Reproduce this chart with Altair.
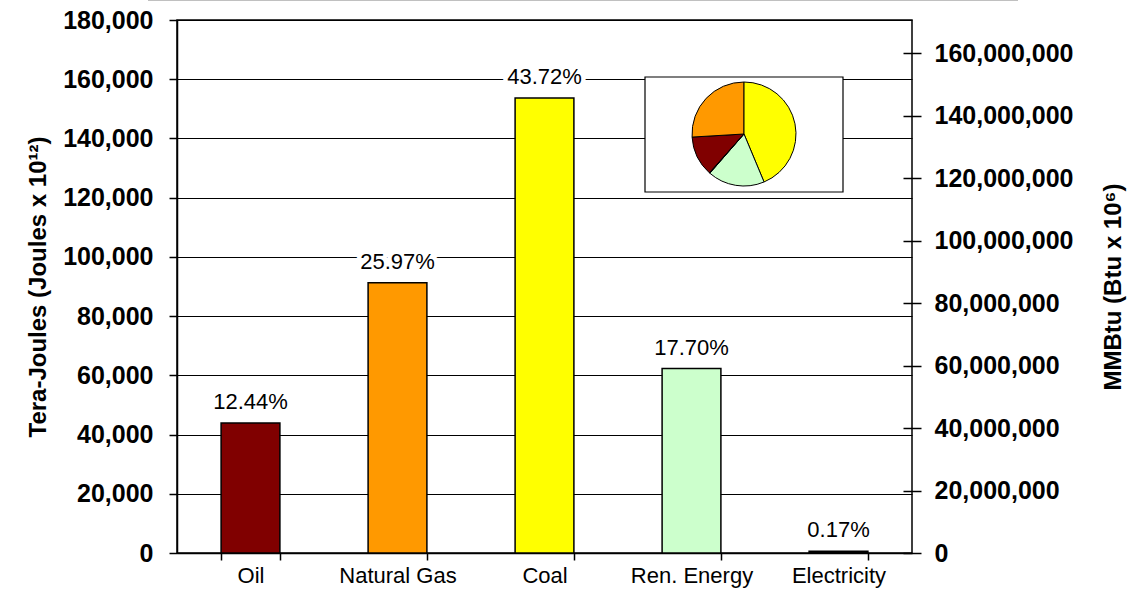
import altair as alt
import pandas as pd

# ---- data ----
categories = ["Oil", "Natural Gas", "Coal", "Ren. Energy", "Electricity"]
tera_joules = [43900, 91300, 153700, 62300, 600]
pct_labels = ["12.44%", "25.97%", "43.72%", "17.70%", "0.17%"]
bar_colors = ["#800000", "#FF9900", "#FFFF00", "#CCFFCC", "#000000"]
left_ticks = [0, 20000, 40000, 60000, 80000, 100000, 120000, 140000, 160000, 180000]
right_ticks = [0, 20000000, 40000000, 60000000, 80000000, 100000000,
               120000000, 140000000, 160000000]
TJ_TO_MMBTU = 947.817
LEFT_MAX = 180000

df = pd.DataFrame({
    "cat": categories,
    "tj": tera_joules,
    "pct": pct_labels,
    "idx": list(range(len(categories))),
})

FONT = "Liberation Sans"
W, H = 735, 533

x_enc = alt.X(
    "cat:N", sort=categories,
    scale=alt.Scale(paddingInner=0.6, paddingOuter=0.3),
    axis=alt.Axis(title=None, labelAngle=0, tickBand="extent", tickSize=7,
                  tickColor="black", tickWidth=1.5, domainColor="black",
                  domainWidth=1.5, labelFont=FONT, labelFontSize=22,
                  labelColor="black", labelPadding=5),
)
y_enc = alt.Y(
    "tj:Q",
    scale=alt.Scale(domain=[0, LEFT_MAX], nice=False),
    axis=alt.Axis(values=left_ticks, format=",d", tickSize=8, tickColor="black",
                  tickWidth=1.5, domainColor="black", domainWidth=1.5,
                  grid=True, gridColor="black", gridWidth=1.2,
                  labelFont=FONT, labelFontSize=25, labelFontWeight="bold",
                  labelColor="black", labelPadding=16,
                  title="Tera-Joules (Joules x 10¹²)", titleFont=FONT,
                  titleFontSize=24, titleFontWeight="bold", titleColor="black",
                  titlePadding=12),
)
color_enc = alt.Color("cat:N", scale=alt.Scale(domain=categories, range=bar_colors),
                      legend=None)

base = alt.Chart(df)

bars = base.mark_bar(stroke="black", strokeWidth=1.5).encode(
    x=x_enc, y=y_enc, color=color_enc)

halo = base.mark_text(fontSize=22, font=FONT, dy=-14, baseline="alphabetic",
                      stroke="white", strokeWidth=9, strokeJoin="round",
                      fill="white").encode(
    x=x_enc, y=y_enc, text="pct:N")
labels = base.mark_text(fontSize=22, font=FONT, dy=-14, baseline="alphabetic",
                        color="black").encode(
    x=x_enc, y=y_enc, text="pct:N")

one = alt.Chart(pd.DataFrame({"a": [0]}))
inset_box = one.mark_rect(fill="white", stroke="black", strokeWidth=1.2).encode(
    x=alt.value(468), x2=alt.value(666), y=alt.value(57), y2=alt.value(172))

pie = base.mark_arc(outerRadius=52, stroke="black", strokeWidth=1).encode(
    theta=alt.Theta("tj:Q", stack=True, scale=alt.Scale(range=[-2.414, 3.869])),
    color=color_enc,
    order=alt.Order("idx:Q"),
    x=alt.value(567), y=alt.value(114),
)

top_rule = one.mark_rule(color="#c0c0c0", strokeWidth=1).encode(
    x=alt.value(-29), x2=alt.value(841), y=alt.value(-19.5))

left_layer = alt.layer(bars, halo, labels, inset_box, pie, top_rule)

right_layer = base.transform_calculate(
    mmbtu=f"datum.tj * {TJ_TO_MMBTU}"
).mark_point(opacity=0).encode(
    y=alt.Y("mmbtu:Q",
            scale=alt.Scale(domain=[0, LEFT_MAX * TJ_TO_MMBTU], nice=False),
            axis=alt.Axis(orient="right", values=right_ticks, format=",d",
                          offset=-9, tickSize=18, tickColor="black", tickWidth=1.5,
                          domain=False, grid=False,
                          labelFont=FONT, labelFontSize=25, labelFontWeight="bold",
                          labelColor="black", labelPadding=13,
                          title="MMBtu (Btu x 10⁶)", titleFont=FONT,
                          titleFontSize=24, titleFontWeight="bold",
                          titleColor="black", titleAngle=270, titlePadding=52)),
)

chart = alt.layer(left_layer, right_layer).resolve_scale(
    y="independent"
).properties(
    width=W, height=H,
    autosize=alt.AutoSizeParams(type="none"),
    padding={"left": 177, "top": 20, "right": 221, "bottom": 38},
    background="white",
).configure_view(stroke="black", strokeWidth=1.5)

chart.save("out.html", embed_options={"renderer": "svg", "actions": False})
